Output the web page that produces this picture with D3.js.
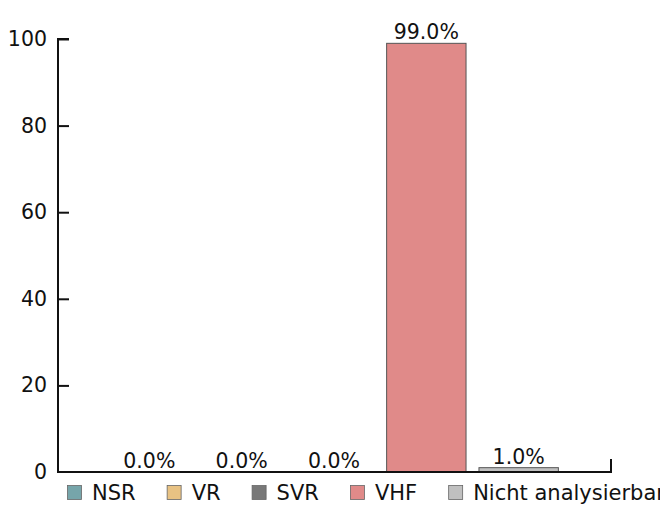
<!DOCTYPE html>
<html>
<head>
<meta charset="utf-8">
<script src="https://cdn.jsdelivr.net/npm/d3@7"></script>
<style>
  body { margin: 0; background: #fff; }
  text { font-family: "DejaVu Sans", sans-serif; }
</style>
</head>
<body>
<script>
const WIDTH = 660;
const HEIGHT = 506;
const FONT = "20.5px";

const categories = ["NSR", "VR", "SVR", "VHF", "Nicht analysierbar"];
const values = [0.0, 0.0, 0.0, 99.0, 1.0];
const colors = ["#76a5aa", "#e8c283", "#787878", "#e08a89", "#c0c0c0"];
const yTicks = [0, 20, 40, 60, 80, 100];

let svg = d3.select("body").append("svg")
    .attr("width", WIDTH)
    .attr("height", HEIGHT);

// bar positions 0..4, axis spans -1..5 like the original
let xscale = d3.scaleLinear().domain([-1, 5]).range([57, 611]);
let yscale = d3.scaleLinear().domain([0, 100]).range([472, 39]);
const BAR_W = 0.86;

// bars
svg.selectAll("rect.bar")
    .data(values)
    .enter().append("rect")
    .attr("class", "bar")
    .attr("x", (d, i) => xscale(i - BAR_W / 2))
    .attr("width", xscale(BAR_W) - xscale(0))
    .attr("y", d => yscale(d))
    .attr("height", d => yscale(0) - yscale(d))
    .attr("fill", (d, i) => colors[i])
    .attr("stroke", d => d > 0 ? "#555" : "none")
    .attr("stroke-width", 1);

// value labels
svg.selectAll("text.val")
    .data(values)
    .enter().append("text")
    .attr("class", "val")
    .attr("x", (d, i) => xscale(i))
    .attr("y", d => yscale(d) - 4)
    .attr("text-anchor", "middle")
    .style("font-size", FONT)
    .attr("fill", "#111")
    .text(d => d.toFixed(1) + "%");

// y axis, ticks point inward
let yAxis = d3.axisLeft(yscale).tickValues(yTicks).tickSize(11);
let yg = svg.append("g").attr("transform", "translate(58,0)").call(yAxis);
yg.select(".domain").attr("stroke", "#111").attr("stroke-width", 2).attr("d", "M11,39H0V472");
yg.selectAll(".tick line").attr("stroke", "#111").attr("stroke-width", 2).attr("x1", 0).attr("x2", 11);
yg.selectAll(".tick text").style("font-size", FONT).attr("fill", "#111").attr("x", -11);
yg.selectAll(".tick").filter(d => d === 0).select("line").remove();

// x axis (bottom spine with end tick)
let xg = svg.append("g").attr("transform", "translate(0,472)");
xg.append("path")
    .attr("d", "M" + xscale(-1) + ",0H" + xscale(5) + "V-13")
    .attr("fill", "none")
    .attr("stroke", "#111")
    .attr("stroke-width", 2);

// legend
let legend = svg.append("g").attr("transform", "translate(67,485)");
let lx = 0;
categories.forEach((c, i) => {
    let item = legend.append("g").attr("transform", "translate(" + lx + ",0)");
    item.append("rect")
        .attr("x", 0.5).attr("y", 0.5)
        .attr("width", 14).attr("height", 14)
        .attr("fill", colors[i])
        .attr("stroke", "#666").attr("stroke-width", 0.8);
    let t = item.append("text")
        .attr("x", 25).attr("y", 15)
        .style("font-size", "21px")
        .attr("fill", "#111")
        .text(c);
    lx += 25 + t.node().getComputedTextLength() + 31;
});
</script>
</body>
</html>
